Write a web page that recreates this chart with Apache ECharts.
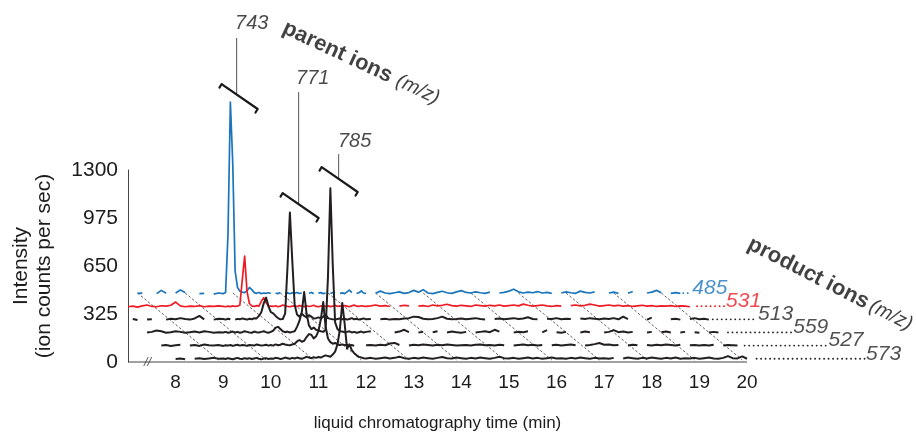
<!DOCTYPE html>
<html><head><meta charset="utf-8">
<script src="https://cdn.jsdelivr.net/npm/echarts@6/dist/echarts.min.js"></script>
<style>html,body{margin:0;padding:0;background:#fff}#c{width:916px;height:435px}</style>
</head><body><div id="c"></div>
<script>
// ---------------- DATA ----------------
// sampling times (min) as drawn on the time axis
const timesA = [7,7.1,7.2,7.3,7.4,7.5,7.6,7.7,7.8,7.9, 8,8.1,8.2,8.3,8.4,8.5,8.6,8.7,8.8,8.9];
const timesB = [9,9.05,9.1,9.15,9.2,9.25,9.3,9.35,9.4,9.45, 9.5,9.55,9.6,9.65,9.7,9.75,9.8,9.85,9.9,9.95,
  10,10.05,10.1,10.15,10.2,10.25,10.3,10.35,10.4,10.45, 10.5,10.55,10.6,10.65,10.7,10.75,10.8,10.85,10.9,10.95,
  11,11.05,11.1,11.15,11.2,11.25,11.3,11.35,11.4,11.45, 11.5,11.55,11.6,11.65,11.7,11.75,11.8,11.85,11.9,11.95, 12];
const timesC = [12.1,12.2,12.3,12.4,12.5,12.6,12.7,12.8,12.9,13, 13.1,13.2,13.3,13.4,13.5,13.6,13.7,13.8,13.9,14,
  14.1,14.2,14.3,14.4,14.5,14.6,14.7,14.8,14.9,15, 15.1,15.2,15.3,15.4,15.5,15.6,15.7,15.8,15.9,16,
  16.1,16.2,16.3,16.4,16.5,16.6,16.7,16.8,16.9,17, 17.1,17.2,17.3,17.4,17.5,17.6,17.7,17.8,17.9,18,
  18.1,18.2,18.3,18.4,18.5,18.6,18.7,18.8,18.9,19, 19.1,19.2,19.3,19.4,19.5,19.6,19.7,19.8,19.9,20];

// product ion traces, intensity (ion counts per sec); null = no signal drawn
const _ = null;
const trace485 = [
  _,_,20,22,_,_,18,40,20,_, 22,42,25,_,_,18,20,_,15,22,
  18,25,420,1314,900,170,60,35,28,24, 38,60,45,25,20,26,18,22,20,24,
  19,_,22,18,25,_,20,23,17,24, 20,26,19,22,_,_,20,26,18,_,
  21,25,18,22,_,20,24,30,_,19, 23,18,30,42,25,_,20,24,36,22, 20,
  _,20,35,22,18,24,30,20,25,40, 28,45,22,18,26,34,24,20,30,38,
  26,22,30,24,20,28,_,22,26,35, 48,30,22,28,24,32,22,26,20,_,
  22,30,24,20,35,26,22,30,_,_, 22,28,20,_,20,32,_,_,22,28,
  40,24,_,20,25,20,_,_,_,_, _,_,_,_,_,_,_,_,_,_];
const trace531 = [
  18,22,16,24,30,20,18,25,22,28, 50,24,18,22,20,26,18,22,20,24,
  20,18,22,19,24,20,22,30,200,361, 120,40,24,20,26,22,55,80,45,24,
  22,20,25,18,22,30,24,20,18,22, 24,20,26,22,18,25,20,23,28,20,
  18,22,26,20,24,19,22,28,20,24, 20,26,22,18,24,30,22,20,25,22, 20,
  24,30,22,26,20,_,22,28,24,_, 22,26,20,30,24,28,35,26,22,28,
  24,20,30,26,22,28,24,30,22,26, 30,24,36,28,22,26,30,24,20,26,
  22,_,26,30,24,28,36,30,22,26, 30,24,28,22,26,20,24,28,22,26,
  20,24,22,26,20,24,22,18,_,_, _,_,_,_,_,_,_,_,_,_];
const trace513 = [
  _,24,18,_,20,22,_,_,20,26, 22,30,24,20,28,45,22,_,20,26,
  24,20,26,22,_,20,25,22,28,24, 20,26,22,30,28,45,70,130,169,110,
  70,62,45,30,22,24,60,380,745,420, 120,55,40,60,45,35,50,40,28,30,
  35,28,40,55,30,25,22,20,24,28, 22,26,20,24,30,22,26,20,24,28, 22,
  24,_,22,26,20,24,22,28,30,40, 38,26,22,24,30,40,26,22,24,28,
  22,26,30,24,20,_,24,28,22,26, 30,24,28,36,24,22,_,26,24,30,
  22,26,24,_,28,24,30,26,22,28, 24,30,22,40,24,_,_,_,20,34,
  _,_,_,22,26,20,_,24,30,22, 26,20,_,_,_,_,_,_,_,_];
const trace559 = [
  _,_,_,_,22,26,35,30,20,24, 30,26,20,24,28,22,30,26,20,24,
  22,26,20,24,28,22,26,20,24,30, 26,22,20,28,24,22,26,30,24,20,
  26,35,55,60,45,30,24,28,22,26, 30,60,100,160,296,150,70,45,55,40,
  35,30,26,40,400,998,480,90,45,30, 28,24,26,30,22,26,20,24,28,22, 26,
  30,_,_,_,_,22,28,40,24,_, 22,26,_,24,30,_,22,28,24,20,
  26,_,22,26,30,24,40,28,_,_, 22,26,24,30,_,_,22,38,_,24,
  20,26,_,_,22,28,24,_,_,22, 26,38,24,28,22,26,_,_,22,26,
  _,24,28,22,_,22,26,_,24,20, _,22,26,22,_,_,_,_,_,_];
const trace527 = [
  _,_,_,_,_,_,_,22,26,20, 24,28,_,22,26,20,30,24,22,26,
  20,24,22,26,20,24,28,22,26,24, 20,26,24,22,30,26,22,24,28,22,
  26,22,30,24,28,35,30,26,24,30, 35,50,60,48,55,80,100,95,70,85,
  120,200,317,150,70,45,35,40,30,26, 30,24,28,22,26,20,_,_,_,_, 24,
  26,22,28,24,36,40,26,_,22,28, 24,30,26,22,28,24,30,26,22,24,
  26,22,28,30,24,26,22,28,24,_, 22,26,30,24,28,22,26,_,24,28,
  22,26,30,24,_,22,26,32,40,28, 30,24,26,_,22,28,24,_,26,22,
  28,24,30,26,22,28,_,24,26,22, 26,22,28,_,22,26,24,22,_,_];
const trace573 = [
  _,_,_,_,_,_,_,_,_,_, 20,24,18,_,22,26,20,24,28,22,
  24,20,26,22,18,24,28,22,20,26, 22,26,20,24,28,22,18,24,26,20,
  24,22,28,26,20,24,30,26,22,28, 24,30,26,22,28,35,30,26,32,28,
  34,30,38,45,40,36,50,70,120,220, 400,260,90,120,80,60,45,35,30,26, 24,
  28,22,26,30,24,28,35,26,22,28, 24,30,26,22,28,34,26,24,30,26,
  22,28,24,30,26,22,28,35,26,24, 28,22,26,30,24,28,22,26,30,24,
  26,22,28,24,30,26,22,28,24,26, 22,28,_,24,30,26,22,28,24,30,
  26,22,28,24,30,22,26,24,28,22, 26,30,24,22,28,40,26,24,38,22];

const productIons = ['485','531','513','559','527','573'];
const parentIons = ['743','771','785'];
const yTicks = [0,325,650,975,1300];
const xTicks = [8,9,10,11,12,13,14,15,16,17,18,19,20];

// ---------------- LAYOUT / STYLE ----------------
const FONT = '"Liberation Sans", Arial, Helvetica, sans-serif';
const INK = '#1c1c1c';
const AXIS_MIN = 7, AXIS_END = 20, PLOT_MAX = 23;   // plot area continues right for the ion leaders
const times = timesA.concat(timesB, timesC);
const traceArrays = [trace485, trace531, trace513, trace559, trace527, trace573];
const rowOffset = [445, 356, 267, 178, 89, 0];          // pseudo-3D vertical stacking
const rowColor = ['#1b75bc', '#ed1c24', '#231f20', '#231f20', '#231f20', '#231f20'];
const labelColor = ['#1b75bc', '#ed1c24', '#262626', '#262626', '#262626', '#262626'];
const leaderStart = [18.66, 18.95, 19.28, 19.6, 19.95, 20.2];
const leaderEnd = [18.82, 19.53, 20.2, 20.94, 21.68, 22.47];
const leaderLevel = 22;
const depthShiftTop = 1.8, depthShiftBottom = 0.1, depthTop = 467, depthBottom = 14;

const parentLabelPos = [[9.6, 2295], [10.88, 1923], [11.76, 1496]];
const parentStem = [[9.282, 2194, 1815], [10.584, 1828, 1069], [11.424, 1408, 1240]];
const parentBar = [[[8.966, 1882], [9.723, 1713]], [[10.248, 1144], [11.004, 975]], [[11.067, 1320], [11.824, 1151]]];
const capDt = -0.045, capDv = -24;

function toPoints(vals, off) {
  return times.map((t, i) => vals[i] == null ? [t, '-'] : [t, vals[i] + off]);
}
const hidden = {symbolSize: 1, itemStyle: {color: 'rgba(0,0,0,0)'}, clip: false, silent: true};

const series = [];
// time axis baseline (7 .. 20 min)
series.push({type: 'line', data: [[AXIS_MIN, 0], [AXIS_END, 0]], showSymbol: false, clip: false, silent: true, z: 2,
  lineStyle: {color: '#444', width: 1}});
// depth guide lines (diagonal dashed)
const diag = [];
xTicks.filter(m => m >= 9).forEach(m => {
  diag.push([m - depthShiftTop, depthTop], [m - depthShiftBottom, depthBottom], [m, '-']);
});
series.push({type: 'line', data: diag, showSymbol: false, clip: false, silent: true, z: 1,
  lineStyle: {color: '#333', width: 0.8, type: [2.5, 2]}});

// traces
productIons.forEach((ion, k) => {
  series.push({type: 'line', name: ion, data: toPoints(traceArrays[k], rowOffset[k]),
    showSymbol: false, clip: false, silent: true, connectNulls: false, z: 3 + k,
    lineStyle: {color: rowColor[k], width: k < 2 ? 1.7 : 2, join: 'round'}});
  // dotted leader
  series.push({type: 'line', data: [[leaderStart[k], rowOffset[k] + leaderLevel], [leaderEnd[k], rowOffset[k] + leaderLevel]],
    showSymbol: false, clip: false, silent: true, z: 3,
    lineStyle: {color: labelColor[k], width: 1.8, type: [0.1, 4.4], cap: 'round'}});
  // ion label
  series.push(Object.assign({type: 'scatter', data: [[leaderEnd[k], rowOffset[k] + leaderLevel]], z: 12,
    label: {show: true, position: 'right', distance: 1, offset: [0, -5], formatter: ion, color: labelColor[k],
      fontSize: 21, fontStyle: 'italic', fontFamily: FONT}}, hidden));
});

// parent ion brackets
parentIons.forEach((p, k) => {
  const st = parentStem[k];
  series.push({type: 'line', data: [[st[0], st[1]], [st[0], st[2]]], showSymbol: false, clip: false, silent: true, z: 10,
    lineStyle: {color: '#555', width: 1}});
  const b = parentBar[k];
  const barData = [b[0], b[1], [b[1][0], '-'],
    [b[0][0], b[0][1]], [b[0][0] + capDt, b[0][1] + capDv], [b[0][0], '-'],
    [b[1][0], b[1][1]], [b[1][0] + capDt, b[1][1] + capDv]];
  series.push({type: 'line', data: barData, showSymbol: false, clip: false, silent: true, z: 10,
    lineStyle: {color: '#1a1a1a', width: 2.2, cap: 'round'}});
  series.push(Object.assign({type: 'scatter', data: [parentLabelPos[k]], z: 11,
    label: {show: true, position: 'inside', formatter: p, color: INK, fontSize: 20, fontStyle: 'italic', fontFamily: FONT}}, hidden));
});

// axis titles along the depth direction
function slantTitle(text, pos, rot, gap) {
  return Object.assign({type: 'scatter', data: [pos], z: 12,
    label: {show: true, position: 'inside', align: 'left', verticalAlign: 'middle', rotate: rot,
      formatter: '{b|' + text + '}' + gap + '{i|(m/z)}',
      rich: {b: {fontSize: 22, fontWeight: 'bold', color: '#111', fontFamily: FONT},
             i: {fontSize: 20, fontStyle: 'italic', color: '#111', fontFamily: FONT}}}}, hidden);
}
series.push(slantTitle('parent ions', [10.27, 2268], -25, '  '));
series.push(slantTitle('product ions', [20.04, 806], -27, ' '));

// axis break mark
series.push(Object.assign({type: 'scatter', data: [[7.41, 0]], z: 12,
  label: {show: true, position: 'inside', formatter: '//', color: '#333', fontSize: 13, fontStyle: 'italic', fontFamily: FONT}}, hidden));

// grid: 47.615 px per minute, left edge at 7 min
const pxPerMin = 619 / 13;
const gridLeft = 128, gridRight = 916 - gridLeft - pxPerMin * (PLOT_MAX - AXIS_MIN);
const namePad = pxPerMin * (PLOT_MAX - AXIS_END);

const chart = echarts.init(document.getElementById('c'), null, {renderer: 'canvas'});
chart.setOption({
  animation: false,
  backgroundColor: '#ffffff',
  textStyle: {fontFamily: FONT},
  grid: {left: gridLeft, right: gridRight, top: 170, bottom: 73, containLabel: false, outerBoundsMode: 'none'},
  xAxis: {type: 'value', min: AXIS_MIN, max: PLOT_MAX, interval: 1,
    axisLine: {show: false}, axisTick: {show: false}, splitLine: {show: false},
    axisLabel: {color: INK, fontSize: 19, margin: 11, fontFamily: FONT,
      formatter: v => xTicks.indexOf(v) >= 0 ? String(v) : ''},
    name: 'liquid chromatography time (min)', nameLocation: 'middle', nameGap: 53,
    nameTextStyle: {fontSize: 17, color: INK, fontFamily: FONT, padding: [0, namePad, 0, 0]}},
  yAxis: {type: 'value', min: yTicks[0], max: yTicks[yTicks.length - 1], interval: 325,
    axisLine: {show: true, lineStyle: {color: '#444', width: 1}}, axisTick: {show: false}, splitLine: {show: false},
    axisLabel: {color: INK, fontSize: 21, margin: 10, fontFamily: FONT, formatter: v => String(v)},
    name: 'Intensity\n(ion counts per sec)', nameLocation: 'middle', nameGap: 72,
    nameTextStyle: {fontSize: 21, lineHeight: 23, color: INK, fontFamily: FONT, align: 'center'}},
  series: series
});
</script></body></html>
